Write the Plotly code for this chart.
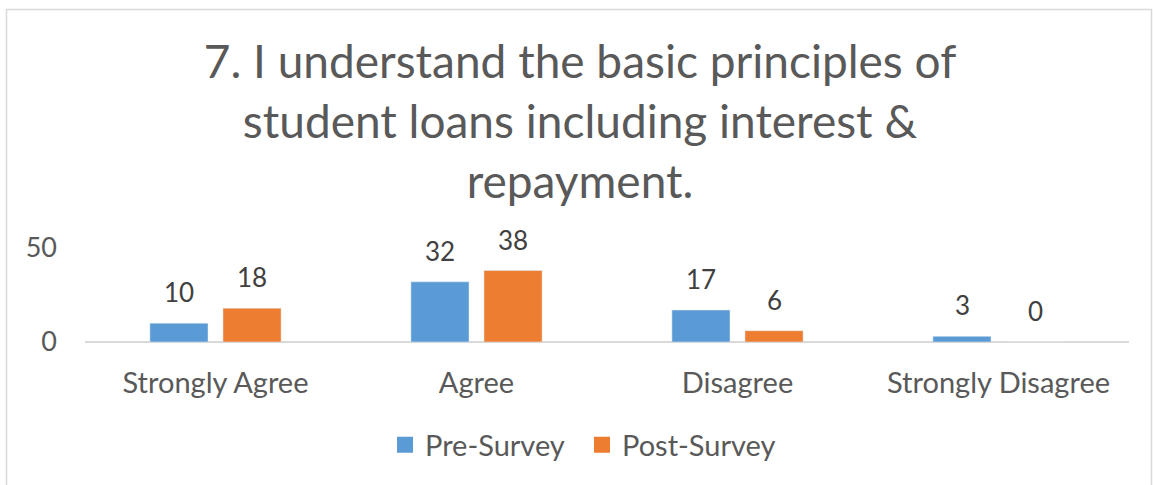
import plotly.graph_objects as go

categories = ["Strongly Agree", "Agree", "Disagree", "Strongly Disagree"]
pre_survey = [10, 32, 17, 3]
post_survey = [18, 38, 6, 0]
series_names = ["Pre-Survey", "Post-Survey"]
y_ticks = [0, 50]
title_text = "7. I understand the basic principles of<br>student loans including interest &<br>repayment."

BLUE = "#5B9BD5"
ORANGE = "#ED7D31"
FONT = "Lato"

W, H = 1153, 485
ML, MR, MT, MB = 85, 24, 248, 143

fig = go.Figure()
fig.add_trace(go.Bar(name=series_names[0], x=categories, y=pre_survey, marker_color=BLUE,
                     showlegend=False, legendgroup="pre"))
fig.add_trace(go.Bar(name=series_names[1], x=categories, y=post_survey, marker_color=ORANGE,
                     showlegend=False, legendgroup="post"))
# legend entries with larger square swatches
for name, col, grp in ((series_names[0], BLUE, "pre"), (series_names[1], ORANGE, "post")):
    fig.add_trace(go.Scatter(name=name, x=[None], y=[None], mode="markers", legendgroup=grp,
                             marker=dict(symbol="square", size=17, color=col)))

annotations = []
for vals, shift in ((pre_survey, -36.5), (post_survey, 36.5)):
    for c, v in zip(categories, vals):
        annotations.append(dict(x=c, y=v, xref="x", yref="y", text=str(v), showarrow=False,
                                xshift=shift, yshift=13, yanchor="bottom",
                                font=dict(family=FONT, size=26, color="#404040")))

pw = W - ML - MR
ph = H - MT - MB
def px_x(p):
    return (p - ML) / pw
def px_y(p):
    return (H - MB - p) / ph

fig.update_layout(
    width=W, height=H,
    margin=dict(l=ML, r=MR, t=MT, b=MB),
    paper_bgcolor="white", plot_bgcolor="white",
    barmode="group", bargap=0.44, bargroupgap=0.205,
    title=dict(text=title_text, x=580 / W, xanchor="center", xref="container",
               y=1 - 78 / H, yanchor="top", yref="container",
               font=dict(family=FONT, size=46, color="#595959")),
    xaxis=dict(showgrid=False, showline=False, zeroline=False, ticks="",
               tickfont=dict(family=FONT, size=29, color="#595959"), ticklabelstandoff=21),
    yaxis=dict(range=[0, 50], tickvals=y_ticks, showgrid=True, gridcolor="#D9D9D9", gridwidth=1.5,
               zeroline=True, zerolinecolor="#D9D9D9", zerolinewidth=1.5, showline=False, ticks="",
               tickfont=dict(family=FONT, size=27, color="#595959"), ticklabelstandoff=27),
    legend=dict(orientation="h", x=px_x(398 - 13), xanchor="left", y=px_y(445), yanchor="middle",
                font=dict(family=FONT, size=29, color="#595959"), itemwidth=30,
                entrywidth=152, entrywidthmode="pixels"),
    annotations=annotations,
    shapes=[dict(type="rect", xref="paper", yref="paper",
                 x0=px_x(6.5), x1=px_x(1151.5), y0=px_y(495), y1=px_y(9.5),
                 line=dict(color="#D9D9D9", width=1.5), layer="below")],
)

fig.write_html("out.html")
